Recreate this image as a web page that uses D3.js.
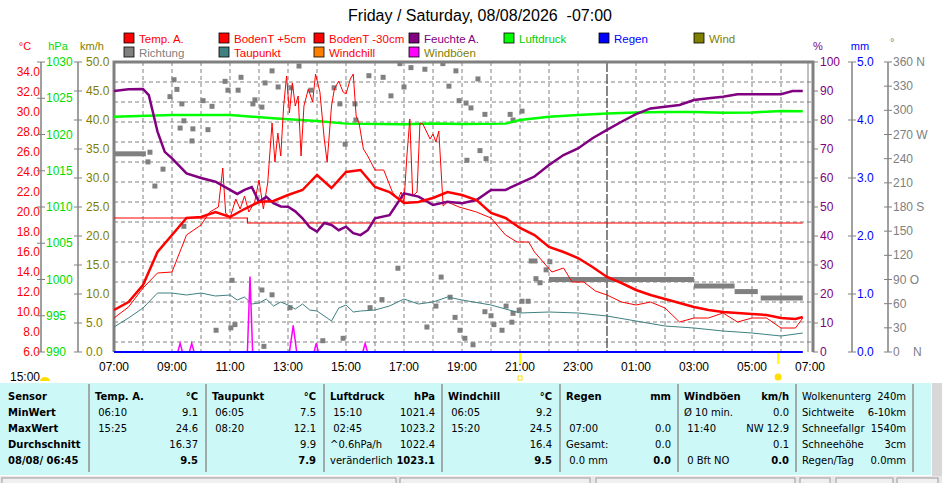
<!DOCTYPE html>
<html><head><meta charset="utf-8">
<script src="https://cdn.jsdelivr.net/npm/d3@7"></script>
<style>
body{margin:0;background:#fff;overflow:hidden}
svg{display:block;font-family:"Liberation Sans",Arial,sans-serif}
</style></head><body>
<svg width="942" height="483"></svg>
<script>
//*
//* Data (hours from 07:00 Friday = 7 to 07:00 Saturday = 31)
//*

var tempA = [[7,10.2],[7.5,11.0],[8,12.7],[8.5,16.0],[9,17.7],[9.5,19.4],[10,19.5],[10.5,20.0],[11,19.5],[11.5,20.3],[12,21.0],[12.5,21.1],[13,21.7],[13.5,22.2],[14,23.7],[14.5,22.4],[15,24.0],[15.5,24.2],[16,22.5],[16.5,22.0],[17,20.9],[17.5,21.0],[18,21.4],[18.5,22.0],[19,21.7],[19.5,21.2],[20,19.9],[20.5,19.4],[21,18.4],[21.5,17.7],[22,16.5],[22.5,16.0],[23,15.4],[23.5,14.5],[24,13.5],[24.5,12.9],[25,12.2],[25.5,11.7],[26,11.3],[26.5,10.9],[27,10.5],[27.5,10.2],[28,10.0],[28.5,9.9],[29,9.8],[29.5,9.7],[30,9.4],[30.5,9.3],[30.75,9.5]];

var boden5 = [[7,9.4],[7.5,10.5],[8,12.4],[8.5,13.9],[9,14.0],[9.5,17.7],[10,18.7],[10.3,20.0],[10.6,20.5],[10.75,24.4],[10.85,19.9],[11,19.4],[11.2,21.3],[11.35,20.3],[11.5,21.6],[11.65,20.0],[11.85,21.0],[12,23.2],[12.15,20.3],[12.3,22.9],[12.45,28.9],[12.55,25.0],[12.65,27.9],[12.75,25.6],[12.85,30.6],[12.95,33.6],[13.05,29.9],[13.15,32.9],[13.25,30.6],[13.35,31.6],[13.45,25.6],[13.55,30.6],[13.7,32.3],[13.85,31.0],[13.95,33.8],[14.1,32.0],[14.25,27.3],[14.35,25.0],[14.5,30.6],[14.6,32.3],[14.75,33.1],[14.9,32.0],[15,31.8],[15.15,33.3],[15.25,33.8],[15.35,29.6],[15.45,28.9],[15.6,26.3],[15.75,25.6],[16,24.2],[16.3,24.2],[16.6,22.0],[16.8,21.3],[16.9,22.0],[17,21.0],[17.1,25.6],[17.2,29.3],[17.3,21.6],[17.45,22.0],[17.55,28.9],[17.65,28.8],[17.8,27.9],[17.9,27.3],[18,27.8],[18.1,27.0],[18.2,28.1],[18.35,20.6],[18.5,21.0],[18.9,20.5],[19.5,20.0],[20,19.4],[20.5,17.7],[20.9,17.0],[21.3,17.0],[21.5,16.0],[21.8,15.0],[22.1,14.0],[22.5,14.4],[22.8,13.0],[23.2,13.0],[23.6,12.1],[24,11.7],[24.5,11.0],[25,10.7],[25.5,11.0],[26,10.4],[26.5,9.0],[27,9.4],[27.5,9.4],[28,9.9],[28.5,9.0],[29,9.4],[29.5,9.4],[30,8.4],[30.5,8.4],[30.75,9.4]];

var boden30 = [[7,19.4],[11.6,19.4],[11.6,18.9],[30.75,18.9]];

var taupunkt = [[7,8.5],[7.5,9.4],[8,10.4],[8.5,11.9],[9,11.9],[9.5,11.7],[10,11.9],[10.5,11.6],[11,11.7],[11.25,11.2],[11.5,11.5],[11.75,10.8],[12,10.9],[12.25,11.3],[12.5,10.6],[12.75,11.0],[13,10.7],[13.25,10.3],[13.5,10.8],[13.75,10.2],[14,10.1],[14.5,9.1],[14.75,10.4],[15,10.7],[15.25,10.0],[15.5,10.1],[16,10.2],[16.5,10.6],[17,11.3],[17.5,10.8],[18,11.0],[18.5,11.5],[19,11.2],[20,10.7],[21,9.9],[22,10.0],[23,9.9],[24,9.6],[25,9.1],[26,8.6],[27,8.4],[28,8.1],[29,7.9],[30,7.6],[30.75,7.9]];

var feuchte = [[7,90.0],[7.5,90.6],[8,90.7],[8.2,88.6],[8.5,76.0],[8.75,69.0],[9,66.8],[9.5,61.6],[10,60.0],[10.5,58.7],[11,55.9],[11.25,54.5],[11.5,55.9],[11.75,56.9],[12,51.8],[12.25,53.5],[12.5,51.3],[12.75,50.2],[13,50.1],[13.25,48.5],[13.5,46.1],[13.75,43.0],[14,41.5],[14.25,44.5],[14.5,43.8],[14.75,42.0],[15,43.2],[15.25,41.0],[15.5,40.3],[15.75,42.0],[16,46.1],[16.5,47.2],[17,54.7],[17.5,53.6],[18,50.7],[18.5,51.8],[19,51.3],[19.5,52.4],[20,55.9],[20.5,55.9],[21,58.2],[21.5,60.5],[22,64.5],[22.5,67.9],[23,70.2],[23.5,73.7],[24,76.6],[24.5,79.4],[25,82.0],[25.5,84.0],[26,84.6],[26.5,85.2],[27,86.9],[27.5,87.5],[28,88.0],[28.5,88.9],[30,88.9],[30.4,90.0],[30.75,90.0]];

var luftdruck = [[7,1022.45],[9,1022.7],[11,1022.7],[12.6,1022.2],[14,1021.86],[15,1021.5],[17,1021.4],[18,1021.5],[19,1021.45],[20.5,1021.5],[21,1022.0],[22,1022.45],[23,1022.7],[24,1022.9],[25,1023.05],[26,1023.1],[27,1023.1],[28,1023.0],[29,1023.05],[30,1023.24],[30.75,1023.2]];

var richtungLine = [[[7,246],[8.1,246]],[[21.3,113],[21.6,113]],[[22,90],[27,90]],[[27,82],[28.4,82]],[[28.4,75],[29.2,75]],[[29.3,67],[30.75,67]]];

var richtungPts = [[9.07,338],[9.17,326],[9.34,308],[9.28,278],[9.41,287],[9.72,277],[9.69,262],[10.07,312],[10.24,276],[10.38,305],[10.83,336],[10.93,325],[11.28,325],[11.38,341],[11.79,308],[11.86,313],[12.1,304],[12.21,334],[12.45,349],[12.66,329],[13.1,328],[13.38,355],[13.79,325],[14.59,328],[14.79,308],[14.97,258],[15.31,308],[15.34,288],[15.79,343],[16.28,341],[16.55,318],[16.86,358],[17.0,329],[17.24,353],[17.72,351],[18.34,358],[18.55,330],[18.79,349],[18.9,312],[19.14,309],[19.31,303],[19.55,339],[19.79,295],[19.62,250],[19.83,240],[19.17,238],[20.66,295],[20.76,288],[21.07,299],[22.03,112],[21.69,86],[21.55,91],[21.9,102],[21.28,63],[21.07,63],[20.97,52],[20.76,48],[20.72,37],[20.52,57],[20.38,27],[20.1,34],[20.0,45],[19.79,50],[19.38,9],[19.1,17],[18.93,27],[18.76,43],[18.59,68],[18.28,93],[18.1,57],[17.79,31],[16.79,104],[16.24,65],[15.83,55],[14.9,17],[14.2,14],[13.07,55],[12.45,71],[12.1,77],[11.07,89],[11.17,34],[10.52,27],[9.41,156],[8.69,227],[8.41,206],[8.17,236],[8.24,248],[8.93,317],[11.03,30],[12.17,7]];

var windboeen = [[7,0],[9.2,0],[9.28,1.5],[9.36,0],[9.6,0],[9.68,1.5],[9.76,0],[11.6,0],[11.69,13.0],[11.78,0],[13.05,0],[13.18,4.6],[13.3,0],[13.9,0],[13.97,1.5],[14.05,0],[15.58,0],[15.66,1.5],[15.74,0],[30.75,0]];

var regen = [[7,0],[30.75,0]];

var tickC = d3.range(6, 35, 2);
var tickP = d3.range(990, 1031, 5);
var tickK = d3.range(0, 51, 5);
var tickH = d3.range(0, 101, 10);
var tickMM = [0, 1, 2, 3, 4, 5];
var tickDeg = d3.range(0, 361, 30);
var degNames = {0: "N", 90: "O", 180: "S", 270: "W", 360: "N"};
var hourTicks = d3.range(7, 32, 2);

var legendItems = [
  ["Temp. A.", "#ff0000", "#ff0000"], ["BodenT +5cm", "#ff0000", "#ff0000"], ["BodenT -30cm", "#ff0000", "#ff0000"],
  ["Feuchte A.", "#800080", "#800080"], ["Luftdruck", "#00ff00", "#00cc00"], ["Regen", "#0000ff", "#0000ff"], ["Wind", "#808000", "#808000"],
  ["Richtung", "#808080", "#808080"], ["Taupunkt", "#408080", "#ff0000"], ["Windchill", "#ff8000", "#ff0000"], ["Windböen", "#ff00ff", "#808000"]
];

var tableRows = [
  ["Sensor", "Temp. A.", "°C", "Taupunkt", "°C", "Luftdruck", "hPa", "Windchill", "°C", "Regen", "mm", "Windböen", "km/h", "Wolkenunterg", "240m"],
  ["MinWert", " 06:10", "9.1", " 06:05", "7.5", " 15:10", "1021.4", " 06:05", "9.2", "", "", "Ø 10 min.", "0.0", "Sichtweite", "6-10km"],
  ["MaxWert", " 15:25", "24.6", " 08:20", "12.1", " 02:45", "1023.2", " 15:20", "24.5", " 07:00", "0.0", " 11:40", "NW 12.9", "Schneefallgr", "1540m"],
  ["Durchschnitt", "", "16.37", "", "9.9", "^0.6hPa/h", "1022.4", "", "16.4", "Gesamt:", "0.0", "", "0.1", "Schneehöhe", "3cm"],
  ["08/08/ 06:45", "", "9.5", "", "7.9", "veränderlich", "1023.1", "", "9.5", " 0.0 mm", "0.0", " 0 Bft NO", "0.0", "Regen/Tag", "0.0mm"]
];

//*
//* Scales
//*

var svg = d3.select("svg");
var L = 114, R = 813, T = 62, B = 352;
var x = d3.scaleLinear().domain([7, 31]).range([L, 810]);
var yC = d3.scaleLinear().domain([6, 35]).range([B, T]);
var yP = d3.scaleLinear().domain([990, 1030]).range([B, T]);
var yK = d3.scaleLinear().domain([0, 50]).range([B, T]);
var yH = d3.scaleLinear().domain([0, 100]).range([B, T]);
var yMM = d3.scaleLinear().domain([0, 5]).range([B, T]);
var yDeg = d3.scaleLinear().domain([0, 360]).range([B, T]);

/* title */
svg.append("text").attr("x", 480).attr("y", 21).attr("text-anchor", "middle")
  .attr("font-size", 16).attr("xml:space", "preserve").text("Friday / Saturday, 08/08/2026  -07:00");

/* legend */
legendItems.forEach(function(d, i) {
  var col = i < 7 ? i : i - 7, row = i < 7 ? 0 : 1;
  var gx = 124 + col * 95, gy = 33 + row * 14;
  svg.append("rect").attr("x", gx).attr("y", gy).attr("width", 10).attr("height", 10)
    .attr("fill", d[1]).attr("stroke", "#000").attr("stroke-width", 0.8);
  svg.append("text").attr("x", gx + 15).attr("y", gy + 9.5).attr("font-size", 11.5)
    .attr("textLength", null).attr("fill", d[2]).text(d[0]);
});

/* grid */
var grid = svg.append("g");
grid.selectAll(".gh").data(tickC.slice(1)).enter().append("line")
  .attr("x1", L).attr("x2", R).attr("y1", function(d) { return yC(d) + 10; }).attr("y2", function(d) { return yC(d) + 10; })
  .attr("stroke", "#808080").attr("stroke-dasharray", "4,3");
grid.selectAll(".gv").data(d3.range(8, 31)).enter().append("line")
  .attr("x1", function(d) { return x(d); }).attr("x2", function(d) { return x(d); })
  .attr("y1", T).attr("y2", B)
  .attr("stroke", function(d) { return d === 24 ? "#606060" : "#808080"; })
  .attr("stroke-dasharray", function(d) { return d === 24 ? "10,2" : "4,3"; })
  .attr("stroke-width", function(d) { return d === 24 ? 1.5 : 1; });

/* frame */
svg.append("path").attr("d", "M" + L + "," + B + "V" + T + "H" + R + "V" + B)
  .attr("fill", "none").attr("stroke", "#808080").attr("stroke-width", 3);
svg.append("line").attr("x1", 808).attr("x2", 808).attr("y1", T).attr("y2", B).attr("stroke", "#808080");

/* left axes */
svg.selectAll(".tc").data(tickC).enter().append("text")
  .attr("x", 40).attr("y", function(d) { return yC(d) + 4; }).attr("text-anchor", "end")
  .attr("font-size", 12).attr("fill", "#ff0000").text(function(d) { return d.toFixed(1); });
function vAxis(xp, scale, ticks, color, fmt, tx) {
  var g = svg.append("g");
  g.append("line").attr("x1", xp).attr("x2", xp).attr("y1", T).attr("y2", B).attr("stroke", "#808080").attr("stroke-width", 1.5);
  g.selectAll("line.t").data(ticks).enter().append("line")
    .attr("x1", xp - 4).attr("x2", xp + 4).attr("y1", function(d) { return scale(d); }).attr("y2", function(d) { return scale(d); })
    .attr("stroke", "#808080");
  g.selectAll("text").data(ticks).enter().append("text")
    .attr("x", tx).attr("y", function(d) { return scale(d) + 4; })
    .attr("font-size", 12).attr("fill", color).attr("xml:space", "preserve").text(fmt);
}
vAxis(41, yP, tickP, "#00dd00", function(d) { return d; }, 46);
vAxis(78, yK, tickK, "#808000", function(d) { return d.toFixed(1); }, 86);
svg.append("g").selectAll("line").data(tickH).enter().append("line")
  .attr("x1", R).attr("x2", R + 5).attr("y1", function(d) { return yH(d); }).attr("y2", function(d) { return yH(d); }).attr("stroke", "#808080");
svg.append("g").selectAll("text").data(tickH).enter().append("text")
  .attr("x", 820).attr("y", function(d) { return yH(d) + 4; }).attr("font-size", 12).attr("fill", "#800080").text(function(d) { return d; });
vAxis(852, yMM, tickMM, "#0000ff", function(d) { return d.toFixed(1); }, 857);
vAxis(888, yDeg, tickDeg, "#808080", function(d) { return d + (degNames[d] ? (d === 0 ? "    " : " ") + degNames[d] : ""); }, 893);

/* units */
[["°C", 25, "#ff0000"], ["hPa", 58, "#00dd00"], ["km/h", 92, "#808000"], ["%", 818, "#800080"], ["mm", 860, "#0000ff"]].forEach(function(u) {
  svg.append("text").attr("x", u[1]).attr("y", 50).attr("text-anchor", "middle").attr("font-size", 11).attr("fill", u[2]).text(u[0]);
});
svg.append("text").attr("x", 890).attr("y", 46).attr("font-size", 11).attr("fill", "#808080").text("°");

/* x axis labels */
svg.selectAll(".xl").data(hourTicks).enter().append("text")
  .attr("x", function(d) { return x(d); }).attr("y", 371).attr("text-anchor", "middle").attr("font-size", 12)
  .text(function(d) { return d3.format("02")(d % 24) + ":00"; });

/* series */
function drawPoly(data, yS, color, width) {
  svg.append("path").datum(data)
    .attr("d", d3.line().x(function(d) { return x(d[0]); }).y(function(d) { return yS(d[1]); }))
    .attr("fill", "none").attr("stroke", color).attr("stroke-width", width);
}
richtungLine.forEach(function(seg) { drawPoly(seg, yDeg, "#808080", 5); });
svg.selectAll(".dir").data(richtungPts).enter().append("rect")
  .attr("x", function(d) { return x(d[0]) - 2.5; }).attr("y", function(d) { return yDeg(d[1]) - 2.5; })
  .attr("width", 5).attr("height", 5).attr("fill", "#808080");
drawPoly(luftdruck, yP, "#00ff00", 2.5);
drawPoly(boden30, yC, "#ff0000", 1.2);
drawPoly(taupunkt, yC, "#408080", 1);
drawPoly(boden5, yC, "#ff0000", 1);
drawPoly(feuchte, yH, "#800080", 2.5);
drawPoly(tempA, yC, "#ff0000", 2.5);
drawPoly(windboeen, yK, "#ff00ff", 1.5);
drawPoly(regen, yMM, "#0000ff", 2);

/* sun markers */
svg.append("line").attr("x1", x(21)).attr("x2", x(21)).attr("y1", B + 1).attr("y2", B + 12).attr("stroke", "#ffff00").attr("stroke-width", 2);
svg.append("line").attr("x1", x(29.9)).attr("x2", x(29.9)).attr("y1", B + 1).attr("y2", B + 12).attr("stroke", "#ffff00").attr("stroke-width", 2);
svg.append("circle").attr("cx", x(29.9)).attr("cy", 377).attr("r", 3.5).attr("fill", "#ffdd00");
svg.append("rect").attr("x", x(21) - 2).attr("y", 376).attr("width", 4).attr("height", 4).attr("fill", "none").attr("stroke", "#ffdd00");
svg.append("text").attr("x", 10).attr("y", 381).attr("font-size", 12).text("15:00");
svg.append("path").attr("d", "M40,381 a5,4 0 0 1 10,0 z").attr("fill", "#ffdd00");

/* table */
svg.append("rect").attr("x", 0).attr("y", 383).attr("width", 931).attr("height", 92).attr("fill", "#ccf8f8");
var colX = [8, 89, 206, 324, 442, 560, 678, 796];
var colR = [0, 198, 316, 435, 552, 671, 789, 906];
colX.slice(1).concat([913]).forEach(function(cx) {
  svg.append("line").attr("x1", cx).attr("x2", cx).attr("y1", 384).attr("y2", 472).attr("stroke", "#909090").attr("stroke-width", 1.5);
});
tableRows.forEach(function(row, r) {
  var ty = 400 + r * 16;
  svg.append("text").attr("x", 8).attr("y", ty).attr("font-size", 10).attr("font-family", "DejaVu Sans").attr("font-weight", "bold").text(row[0]);
  for (var c = 1; c < 8; c++) {
    var head = r === 0 && c < 7, last = r === 4 && c < 7;
    svg.append("text").attr("x", colX[c] + 6).attr("y", ty).attr("font-size", 10).attr("font-family", "DejaVu Sans")
      .attr("font-weight", head ? "bold" : "normal").attr("xml:space", "preserve").text(row[2 * c - 1]);
    svg.append("text").attr("x", colR[c]).attr("y", ty).attr("text-anchor", "end").attr("font-size", 10).attr("font-family", "DejaVu Sans")
      .attr("font-weight", head || last ? "bold" : "normal").text(row[2 * c]);
  }
});

/* status bar */
svg.append("rect").attr("x", 0).attr("y", 476).attr("width", 942).attr("height", 7).attr("fill", "#e8e8e8");
[[2, 396], [400, 590], [596, 795], [800, 830], [836, 893], [897, 938]].forEach(function(b) {
  svg.append("rect").attr("x", b[0]).attr("y", 478).attr("width", b[1] - b[0]).attr("height", 8).attr("fill", "#f0f0f0").attr("stroke", "#999");
});
svg.append("rect").attr("x", 932).attr("y", 383).attr("width", 10).attr("height", 93).attr("fill", "#d8d8d8");
</script>
</body></html>
